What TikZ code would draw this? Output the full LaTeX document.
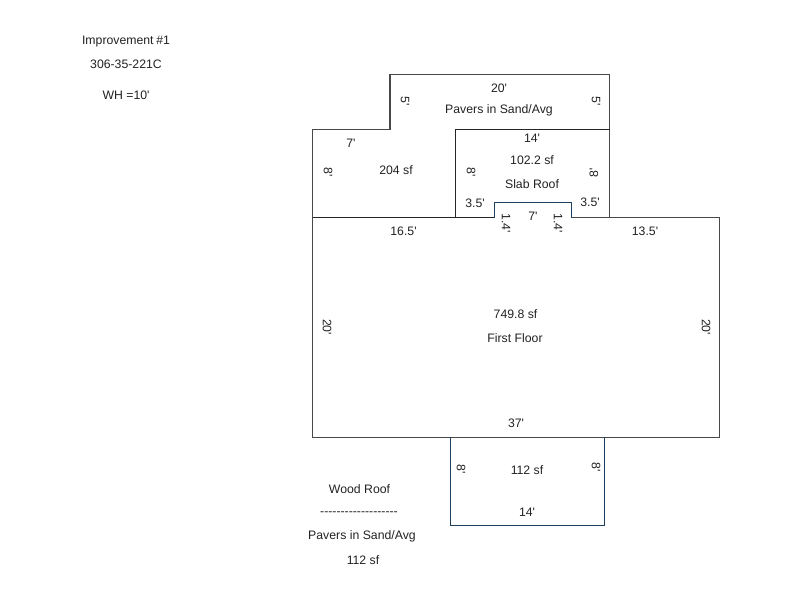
\documentclass[tikz,border=0pt]{standalone}
\usepackage{fontspec}
\newfontfamily\plainarial{Liberation Sans}
\definecolor{wallgray}{HTML}{484848}
\definecolor{roofblue}{HTML}{1F3F5F}
\definecolor{inkgray}{HTML}{222222}
\tikzset{
  lbl/.style={font=\plainarial\fontsize{9.2pt}{10pt}\selectfont,text=inkgray,inner sep=0pt},
  wall/.style={draw=wallgray,line width=0.8pt},
  slab/.style={draw=black!85,line width=1.05pt},
  roof/.style={draw=roofblue,line width=0.95pt}
}
\begin{document}
\begin{tikzpicture}[x=0.75pt,y=-0.75pt]
\useasboundingbox (0,0) rectangle (800,600);
% walls
\draw[wall] (312.7,217.5) -- (312.7,129.7) -- (390,129.7) -- (390,74.7) -- (609.7,74.7) -- (609.7,217.5);
\draw[wall] (312.7,217.5) -- (312.7,437.3) -- (719.7,437.3) -- (719.7,217.5) -- (571.3,217.5);
\draw[slab] (312.7,217.5) -- (494.3,217.5);
\draw[slab] (455.7,217.5) -- (455.7,129.7) -- (609.7,129.7);
\draw[roof] (494.3,217.5) -- (494.3,202.3) -- (571.3,202.3) -- (571.3,217.5);
\draw[roof] (450.3,437.3) -- (450.3,525.4) -- (604.3,525.4) -- (604.3,437.3);
% header
\node[lbl] (imp) at (126,42) {Improvement\kern-0.6pt\ \#1};
\node[lbl] (par) at (126,64) {306-35-221C};
\node[lbl] (wh) at (126,95) {WH =10'};
% pavers
\node[lbl] (p20) at (499,88) {20'};
\node[lbl] (pname) at (499,110) {Pavers in Sand/Avg};
\node[lbl,rotate=-90] (p5l) at (405,101) {5'};
\node[lbl,rotate=-90] (p5r) at (596,101) {5'};
% left block
\node[lbl] (l7) at (351,143) {7'};
\node[lbl] (l204) at (396,170) {204 sf};
\node[lbl,rotate=-90] (l8) at (328,172) {8'};
% slab
\node[lbl] (s14) at (532,138) {14'};
\node[lbl] (sarea) at (532,160) {102.2 sf};
\node[lbl] (sname) at (532,184) {Slab Roof};
\node[lbl,rotate=-90] (s8l) at (471,172) {8'};
\node[lbl,rotate=90] (s8r) at (594,173) {8'};
\node[lbl] (s35l) at (475,203) {3.5'};
\node[lbl] (s35r) at (590,202) {3.5'};
\node[lbl] (b7) at (533,216) {7'};
\node[lbl,rotate=-90] (b14l) at (506,223) {1.4'};
\node[lbl,rotate=-90] (b14r) at (558,223) {1.4'};
% first floor
\node[lbl] (f165) at (403.5,231) {16.5'};
\node[lbl] (f135) at (645,231) {13.5'};
\node[lbl] (farea) at (515.5,314) {749.8 sf};
\node[lbl] (fname) at (515,338) {First Floor};
\node[lbl,rotate=-90] (f20l) at (327,327) {20'};
\node[lbl,rotate=-90] (f20r) at (706,327) {20'};
\node[lbl] (f37) at (516,423) {37'};
% wood roof
\node[lbl] (w112) at (527,470) {112 sf};
\node[lbl] (w14) at (527,512) {14'};
\node[lbl,rotate=-90] (w8l) at (461,469) {8'};
\node[lbl,rotate=-90] (w8r) at (596,467) {8'};
\node[lbl] (kname) at (359.5,489) {Wood Roof};
\node[lbl] (kdash) at (359,513.5) {-------------------};
\node[lbl] (kpav) at (362,536) {Pavers in Sand/Avg};
\node[lbl] (karea) at (363,560) {112 sf};
\end{tikzpicture}
\end{document}
